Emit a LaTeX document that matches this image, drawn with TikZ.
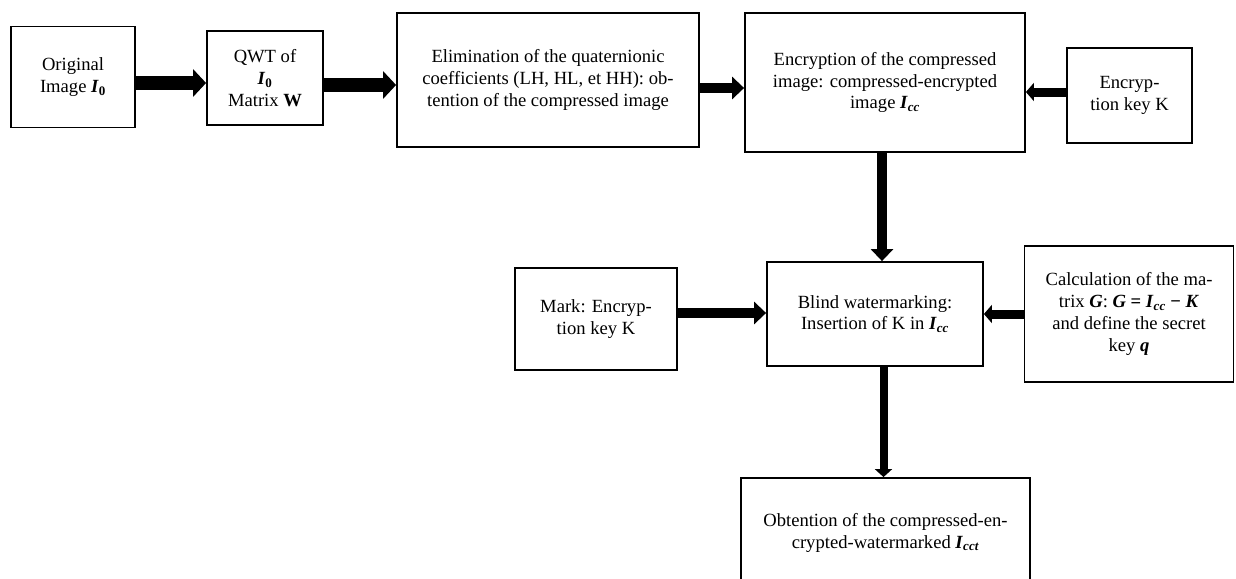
\documentclass[tikz,border=0pt]{standalone}
\usepackage{fontspec}
\setmainfont{Liberation Serif}
\usetikzlibrary{arrows.meta}
\newcommand{\bivar}[1]{\textbf{\textit{#1}}}
\newcommand{\bisub}[1]{\textsubscript{\textbf{\textit{#1}}}}
\begin{document}
\begin{tikzpicture}[x=1pt,y=-1pt,
  box/.style={draw,line width=1.8pt,align=center,inner sep=0pt,
    font=\fontsize{18.6}{21.7}\selectfont},
  bigA/.style={line width=14pt,-{Triangle[length=13pt,width=27pt]}},
  midA/.style={line width=10pt,-{Triangle[length=12pt,width=22pt]}},
  smallA/.style={line width=9pt,-{Triangle[length=8pt,width=18pt]}},
  thinA/.style={line width=8pt,-{Triangle[length=8pt,width=17pt]}}]
\useasboundingbox (0,0) rectangle (1236,578);
\node[box,minimum width=124pt,minimum height=101pt] (orig) at (73,77)
  {Original\\Image \bivar{I}\textsubscript{\textbf{0}}};
\node[box,minimum width=116pt,minimum height=94pt] (qwt) at (265,78)
  {QWT of\\\bivar{I}\textsubscript{\textbf{0}}\\Matrix \textbf{W}};
\node[box,minimum width=302pt,minimum height=134pt] (elim) at (548,80)
  {Elimination of the quaternionic\\coefficients (LH, HL, et HH): ob-\\tention of the compressed image};
\node[box,minimum width=280pt,minimum height=139pt] (enc) at (885,82.5)
  {Encryption of the compressed\\image: compressed-encrypted\\image \bivar{I}\bisub{cc}};
\node[box,minimum width=125pt,minimum height=95pt] (key) at (1129.5,95.5)
  {Encryp-\\tion key K};
\node[box,minimum width=216pt,minimum height=104pt] (blind) at (875,314)
  {Blind watermarking:\\Insertion of K in \bivar{I}\bisub{cc}};
\node[box,minimum width=162pt,minimum height=102pt] (mark) at (596,319)
  {Mark: Encryp-\\tion key K};
\node[box,minimum width=209pt,minimum height=136pt] (calc) at (1129,314)
  {Calculation of the ma-\\trix \bivar{G}: \bivar{G} \textbf{=} \bivar{I}\bisub{cc} \textbf{−} \bivar{K}\\and define the secret\\key \bivar{q}};
\node[box,minimum width=289pt,minimum height=110pt] (final) at (885.5,533)
  {Obtention of the compressed-en-\\crypted-watermarked \bivar{I}\bisub{cct}};
\draw[bigA] ([yshift=-6pt]orig.east) -- ([yshift=-5pt]qwt.west);
\draw[bigA] ([yshift=-7pt]qwt.east) -- ([yshift=-5pt]elim.west);
\draw[midA] ([yshift=-8pt]elim.east) -- ([yshift=-5.5pt]enc.west);
\draw[smallA] ([yshift=3.5pt]key.west) -- ([yshift=-9.5pt]enc.east);
\draw[midA] ([xshift=-3pt]enc.south) -- ([xshift=7pt]blind.north);
\draw[midA] ([yshift=6pt]mark.east) -- ([yshift=1pt]blind.west);
\draw[smallA] (calc.west) -- (blind.east);
\draw[thinA] ([xshift=8.5pt]blind.south) -- ([xshift=-2pt]final.north);
\end{tikzpicture}
\end{document}
